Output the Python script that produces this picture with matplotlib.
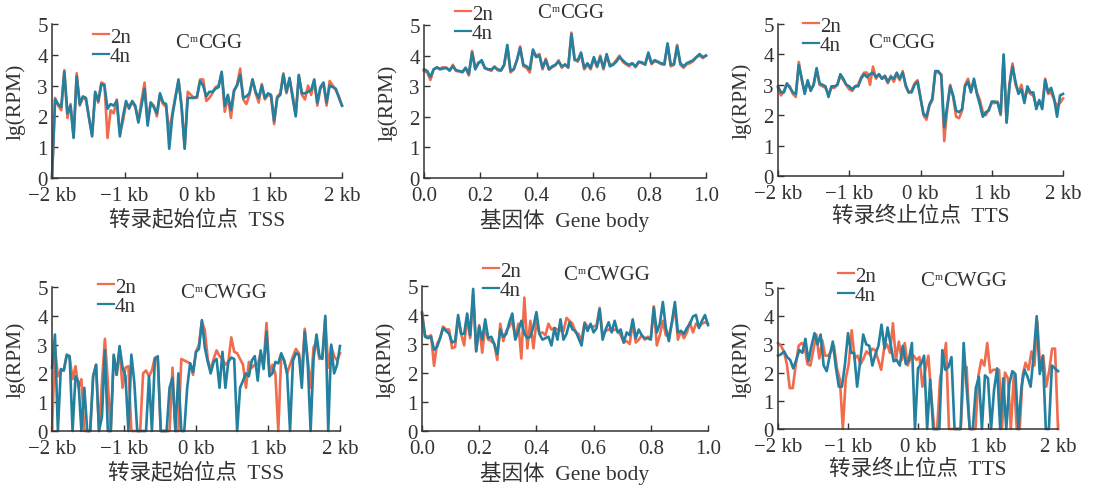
import numpy as np
import matplotlib
matplotlib.use("Agg")
import matplotlib.pyplot as plt

plt.rcParams["font.family"] = ["Liberation Serif", "Noto Sans CJK SC"]
plt.rcParams["axes.unicode_minus"] = True

W, H = 1094, 489

C_2N = "#F06C4C"
C_4N = "#23809F"
INK = "#333333"

# ---- lg(RPM) profiles ----
# CmCGG, around TSS (-2 kb .. 2 kb)
tss_cgg_4n = [0, 2.55, 2.4, 2.3, 3.45, 2.1, 2.35, 1.3, 3.3, 2.4, 2.65, 2.6, 1.95, 1.35, 2.8, 2.5,
              3.05, 3.0, 2.25, 2.4, 2.35, 2.5, 1.35, 2.0, 2.5, 2.25, 2.5, 2.35, 1.8, 2.35, 2.9, 1.7,
              2.45, 2.3, 2.1, 2.75, 2.45, 2.4, 0.95, 2.0, 2.6, 3.2, 2.3, 0.95, 2.6, 2.6, 2.6, 2.65,
              3.15, 3.0, 2.65, 2.8, 2.8, 2.9, 2.95, 3.45, 2.35, 2.7, 2.2, 2.85, 3.0, 3.35, 2.6, 2.65,
              2.75, 3.2, 2.8, 2.6, 3.0, 2.6, 2.75, 2.7, 1.85, 2.6, 2.7, 3.35, 2.8, 3.25, 2.6, 2.0,
              3.35, 2.75, 2.75, 2.8, 2.85, 3.2, 2.45, 2.95, 3.1, 2.45, 3.0, 2.95, 2.9, 2.6, 2.35]
tss_cgg_2n = [0, 2.6, 2.35, 2.2, 3.5, 1.95, 2.4, 1.35, 3.4, 2.35, 2.6, 2.55, 1.95, 1.4, 2.75, 2.45,
              3.1, 3.05, 1.3, 2.2, 2.1, 2.55, 1.45, 1.85, 2.4, 2.35, 2.45, 2.3, 1.85, 2.5, 3.1, 1.8,
              2.45, 2.35, 2.0, 2.7, 2.4, 2.3, 1.5, 2.1, 2.65, 3.15, 2.35, 1.0, 2.8, 2.7, 2.6, 2.6,
              3.2, 3.2, 2.5, 2.6, 2.75, 2.95, 3.0, 3.4, 2.15, 2.65, 1.95, 2.8, 3.05, 3.55, 2.55, 2.4,
              2.7, 3.2, 2.75, 2.45, 3.05, 2.55, 2.7, 2.65, 1.75, 2.65, 2.75, 3.4, 2.75, 3.2, 2.7, 2.05,
              3.3, 2.7, 2.55, 3.0, 2.7, 3.15, 2.35, 2.9, 3.05, 2.35, 3.15, 3.0, 2.85, 2.65, 2.35]

# CmCGG, gene body (0 .. 1)
body_cgg_4n = [3.55, 3.5, 3.3, 3.55, 3.62, 3.55, 3.58, 3.6, 3.52, 3.65, 3.52, 3.5, 3.47, 3.6, 3.4,
               4.1, 3.55, 3.75, 3.85, 3.6, 3.55, 3.55, 3.62, 3.55, 3.52, 3.7, 4.35, 3.5, 3.55, 3.85,
               4.25, 3.7, 3.65, 3.55, 4.2, 3.95, 4.0, 3.6, 3.85, 3.55, 3.65, 3.7, 3.8, 3.65, 3.7,
               3.62, 4.7, 3.85, 3.85, 4.1, 3.6, 3.75, 3.6, 3.95, 3.65, 3.95, 3.6, 4.05, 3.65, 3.7,
               3.8, 3.95, 3.85, 3.75, 3.7, 3.75, 3.65, 3.8, 3.78, 3.7, 4.1, 3.75, 3.85, 3.8, 3.75,
               3.72, 4.4, 3.7, 3.72, 4.3, 3.75, 3.65, 3.75, 3.8, 3.85, 3.95, 4.05, 3.95, 4.0]
body_cgg_2n = [3.5, 3.45, 3.2, 3.55, 3.6, 3.58, 3.62, 3.6, 3.5, 3.7, 3.5, 3.48, 3.45, 3.6, 3.35,
               4.15, 3.6, 3.78, 3.8, 3.58, 3.55, 3.5, 3.65, 3.52, 3.5, 3.68, 4.3, 3.45, 3.55, 3.85,
               4.3, 3.65, 3.6, 3.45, 4.15, 4.0, 4.05, 3.55, 3.9, 3.55, 3.62, 3.68, 3.85, 3.6, 3.72,
               3.6, 4.75, 3.9, 3.8, 4.05, 3.55, 3.7, 3.55, 3.9, 3.62, 4.0, 3.55, 4.0, 3.7, 3.72,
               3.85, 4.0, 3.8, 3.72, 3.65, 3.75, 3.62, 3.78, 3.75, 3.72, 4.05, 3.72, 3.82, 3.78, 3.72,
               3.7, 4.35, 3.65, 3.7, 4.35, 3.7, 3.6, 3.72, 3.75, 3.82, 3.95, 4.0, 3.92, 4.0]

# CmCGG, around TTS
tts_cgg_4n = [2.95, 2.75, 2.75, 3.05, 2.9, 2.75, 2.7, 3.65, 3.2, 2.7, 3.15, 2.8, 3.0, 3.55, 3.05,
              3.0, 2.95, 2.6, 2.95, 2.95, 3.0, 3.35, 3.2, 3.0, 2.95, 2.85, 2.95, 2.95, 3.2, 3.35,
              3.25, 3.35, 3.4, 3.25, 3.35, 3.2, 3.3, 3.1, 3.25, 3.2, 3.4, 3.2, 3.4, 3.0, 2.75,
              2.75, 3.0, 3.1, 2.55, 2.05, 1.95, 2.35, 2.55, 3.45, 3.45, 3.3, 1.6, 2.3, 2.95, 2.65,
              2.15, 2.1, 2.2, 2.95, 3.1, 2.75, 3.2, 2.7, 2.35, 1.95, 2.1, 2.15, 2.45, 2.45, 2.4,
              2.05, 4.0, 1.75, 3.0, 3.6, 3.1, 2.7, 2.85, 2.4, 2.95, 2.75, 2.75, 2.2, 2.5, 2.2,
              3.15, 2.75, 2.9, 2.55, 1.95, 2.65, 2.7]
tts_cgg_2n = [2.9, 2.65, 2.8, 3.0, 2.95, 2.7, 2.6, 3.75, 3.15, 2.75, 3.1, 2.85, 3.0, 3.5, 3.0,
              2.95, 2.9, 2.7, 2.9, 2.9, 3.0, 3.3, 3.15, 3.0, 2.85, 2.8, 2.95, 3.0, 3.25, 3.4,
              3.4, 3.0, 3.6, 3.2, 3.35, 3.2, 3.25, 3.05, 3.3, 3.1, 3.35, 3.15, 3.45, 2.95, 2.75,
              2.8, 3.05, 3.15, 2.6, 2.0, 1.85, 2.3, 2.5, 3.45, 3.4, 3.35, 1.15, 2.2, 3.0, 2.6,
              1.95, 1.9, 2.15, 3.0, 3.2, 2.8, 3.15, 2.75, 2.5, 2.1, 2.0, 2.2, 2.4, 2.4, 2.45,
              2.0, 3.95, 1.8, 3.05, 3.7, 3.0, 2.75, 3.0, 2.5, 2.85, 2.7, 2.65, 2.3, 2.45, 2.3,
              3.2, 2.7, 2.75, 2.5, 2.3, 2.4, 2.55]

# CmCWGG, around TSS
tss_cwgg_4n = [2.2, 3.35, 0, 2.15, 2.1, 2.65, 2.6,
               0, 1.9, 1.7, 0, 1.5, 0, 0, 1.9, 2.3, 0, 0.5, 2.8, 0, 0, 2.65, 1.95, 2.95, 2.2,
               1.9, 0, 2.65, 1.7, 0,
               0, 0, 0,
               1.9, 0, 2.5, 2.6, 0, 0, 0, 1.5, 1.85, 0, 2.0,
               0, 0, 1.5, 2.35,
               2.05, 2.75, 2.85, 3.85, 2.9, 2.4, 2.0, 2.4, 2.5, 1.5, 2.75, 1.5, 2.4, 2.55, 2.5,
               0, 1.5, 1.75, 2.0, 1.9, 2.45, 2.6, 1.75, 2.8, 2.15, 3.45, 1.9, 2.0, 2.4, 2.35,
               2.7, 2.45, 2.0, 0, 2.45, 2.7, 2.65, 1.5, 3.45, 2.4, 0, 2.5, 3.35, 2.6, 2.5, 4.0,
               0, 3.0, 2.0, 2.3, 2.95]
tss_cwgg_2n = [0, 2.9, 1.9, 2.1, 2.1, 2.6, 2.55,
               1.8, 2.25, 1.5, 1.8, 0, 0, 0, 1.9, 2.3, 0, 1.7, 3.2, 1.7, 0, 2.6, 1.95, 2.85, 1.5,
               2.2, 2.25, 0, 0, 0,
               0, 2.0, 2.1,
               1.9, 2.1, 2.55, 2.45, 0, 0, 0, 0, 2.2, 0, 0,
               2.5, 2.45, 2.4, 2.35,
               1.95, 2.75, 3.0, 3.8, 3.5, 2.5, 2.1, 2.5, 2.8, 2.6, 2.5, 2.3, 2.4, 3.25, 2.75,
               2.7, 2.5, 2.3, 1.5, 2.4, 2.2, 2.3, 2.3, 2.7, 2.35, 3.75, 2.0, 2.3, 2.0, 0,
               2.6, 2.45, 2.0, 2.3, 2.6, 2.85, 2.7, 2.0, 3.55, 2.5, 1.5, 2.9, 3.1, 2.5, 2.6, 3.9,
               2.2, 2.95, 2.6, 2.45, 2.7]

# CmCWGG, gene body
body_cwgg_4n = [4.05, 3.25, 3.2, 3.25, 2.8, 2.9, 3.2, 3.55, 3.45, 3.35, 3.05, 3.1, 4.0, 3.35, 3.35,
                4.05, 3.3, 4.9, 2.75, 3.6, 3.15, 3.85, 3.2, 3.25, 3.0, 2.65, 3.5, 3.25, 3.35, 3.75,
                4.05, 3.15, 3.45,
                3.8, 3.35, 3.2, 3.25, 3.6,
                4.1, 3.35, 3.15, 3.2, 3.25, 2.95, 3.55, 3.15, 3.85, 3.15, 3.35, 3.75, 3.5, 3.45,
                3.2, 2.95, 3.7, 3.45, 3.7, 3.4, 3.55, 4.2, 3.15, 3.5, 3.75, 3.4, 3.8, 3.4, 3.5,
                3.05, 3.4, 3.3, 3.85, 3.2, 3.5, 3.3, 3.2, 3.2, 3.15, 4.25, 3.4, 3.7, 4.45, 3.55,
                3.1, 3.75, 4.45, 3.4, 3.45, 3.35, 3.55, 3.7, 3.95, 4.0, 3.55, 3.8, 4.0, 3.65]
body_cwgg_2n = [4.1, 3.3, 3.25, 3.3, 2.25, 3.0, 3.2, 3.6, 3.5, 3.5, 2.85, 2.9, 3.9, 3.35, 2.95,
                3.9, 3.2, 4.7, 2.75, 3.65, 2.7, 3.6, 3.15, 3.1, 3.0, 2.45, 3.7, 3.1, 3.45, 3.6,
                3.8, 3.2, 3.7,
                2.5, 4.6, 2.85, 3.8, 2.85,
                3.75, 3.35, 3.4, 3.3, 3.7, 3.5, 3.55, 3.5, 3.45, 3.45, 3.9, 3.8, 3.7, 3.4,
                3.35, 3.1, 3.75, 3.6, 3.6, 3.6, 3.65, 4.25, 3.3, 3.45, 3.5, 3.45, 3.5, 3.45, 3.3,
                3.05, 3.1, 3.0, 3.75, 3.05, 3.15, 3.3, 3.15, 3.25, 3.2, 4.3, 2.95, 3.3, 3.8, 3.3,
                3.3, 3.7, 4.3, 3.15, 3.45, 3.2, 3.4, 3.75, 3.4, 3.7, 3.6, 3.7, 3.75, 3.7]

# CmCWGG, around TTS
tts_cwgg_4n = [2.6, 2.65, 2.75, 2.55, 2.45, 2.15, 2.45, 2.8, 2.7, 3.2, 2.4, 2.95, 3.4, 3.0, 3.35,
               2.25, 2.05, 2.6, 3.1, 2.2, 1.5, 1.5, 2.3, 3.4, 2.7, 2.7, 1.5, 2.4, 3.35, 3.0,
               2.95, 2.25, 2.65, 2.95, 3.7, 2.85, 3.6, 3.0, 2.4, 2.45, 2.25, 2.95, 2.3, 2.45, 3.05,
               0, 2.15, 2.3, 2.6, 0, 1.75, 0, 0, 0, 2.8, 2.1, 2.2, 2.55, 0, 0,
               0, 3.05, 1.45, 0, 0, 1.45, 1.85, 0, 1.9, 1.8, 0, 1.4, 2.15, 0, 1.8,
               0, 1.6, 2.05, 1.95, 0, 1.5, 2.1, 1.85, 1.5, 2.6, 4.0, 1.95, 2.6, 0, 0,
               2.25, 2.15, 2.05]
tts_cwgg_2n = [3.05, 2.95, 2.75, 2.3, 1.45, 1.45, 2.25, 2.95, 3.05, 2.95, 2.3, 2.25, 2.8, 3.35, 2.5,
               3.15, 2.6, 2.6, 2.75, 2.95, 2.15, 1.75, 0, 1.8, 2.3, 3.5, 2.5, 2.6, 2.3, 2.5,
               2.75, 2.65, 2.85, 2.8, 2.45, 2.1, 2.85, 3.0, 2.7, 3.75, 2.45, 3.1, 2.45, 3.05, 2.25,
               2.5, 2.6, 2.45, 2.55, 1.5, 2.1, 2.6, 1.2, 0, 0, 1.8, 2.3, 3.05, 0, 0,
               0, 0, 0, 2.1, 2.2, 0, 0, 0, 1.9, 2.45, 2.25, 3.05, 2.0, 2.1, 2.1,
               2.1, 0, 2.0, 1.8, 0, 1.9, 0, 0, 1.9, 2.35, 2.1, 2.75, 2.25, 3.8, 2.05,
               2.6, 1.5, 2.05, 2.85, 2.85, 0]

kb_ticks = [-2, -1, 0, 1, 2]
kb_labels = ["\u22122 kb", "\u22121 kb", "0 kb", "1 kb", "2 kb"]
body_ticks = [0.0, 0.2, 0.4, 0.6, 0.8, 1.0]
body_labels = ["0.0", "0.2", "0.4", "0.6", "0.8", "1.0"]
y_ticks = [0, 1, 2, 3, 4, 5]

xlab_tss = "转录起始位点  TSS"
xlab_body = "基因体  Gene body"
xlab_tts = "转录终止位点  TTS"
# motif name pieces: base, superscript, rest
motif_cgg = ("C", "m", "CGG")
motif_cwgg = ("C", "m", "CWGG")

fig = plt.figure(figsize=(W / 100, H / 100), dpi=100)
renderer = fig.canvas.get_renderer()


def px_axes(left, top, right, bottom):
    return fig.add_axes([left / W, 1 - bottom / H, (right - left) / W, (bottom - top) / H])


def motif_label(x, y, parts):
    # "C" + small raised "m" + rest of the site name
    t1 = fig.text(x / W, 1 - y / H, parts[0], fontsize=15, color=INK, ha="left", va="center")
    x1 = t1.get_window_extent(renderer).x1
    t2 = fig.text((x1 + 0.5) / W, 1 - (y - 8.5) / H, parts[1], fontsize=7.5, color=INK,
                  ha="left", va="top")
    x2 = t2.get_window_extent(renderer).x1
    fig.text((x2 + 0.5) / W, 1 - y / H, parts[2], fontsize=15, color=INK, ha="left", va="center")


def panel(box, span, ticks, labels, v2n, v4n, xlabel, motif, leg_xy, motif_xy):
    ax = px_axes(*box)
    x2 = np.linspace(span[0], span[1], len(v2n))
    x4 = np.linspace(span[0], span[1], len(v4n))
    l2, = ax.plot(x2, v2n, color=C_2N, lw=1.9, clip_on=False)
    l4, = ax.plot(x4, v4n, color=C_4N, lw=1.9, clip_on=False)
    ax.set_xlim(*span)
    ax.set_ylim(0, 5)
    ax.set_xticks(ticks)
    ax.set_xticklabels(labels)
    ax.set_yticks(y_ticks)
    for s in ("top", "right"):
        ax.spines[s].set_visible(False)
    for s in ("left", "bottom"):
        ax.spines[s].set_color(INK)
        ax.spines[s].set_linewidth(1.1)
    ax.tick_params(direction="in", length=4, width=1.0, color=INK, labelcolor=INK,
                   labelsize=15, pad=3)
    ax.tick_params(axis="x", pad=6)
    ax.set_xlabel(xlabel, fontsize=15.5, color=INK)
    ax.xaxis.set_label_coords(0.5, -30 / (box[3] - box[1]))
    ax.xaxis.label.set_va("top")
    ax.set_ylabel("lg(RPM)", fontsize=15.5, color=INK)
    ax.yaxis.set_label_coords(-26 / (box[2] - box[0]), 0.5)
    leg = ax.legend([l2, l4], ["2n", "4n"], loc="upper left",
                    bbox_to_anchor=(leg_xy[0] / W, 1 - leg_xy[1] / H),
                    bbox_transform=fig.transFigure, frameon=False, fontsize=15,
                    handlelength=0.75, handletextpad=0.05, labelspacing=0.0,
                    borderpad=0, borderaxespad=0, labelcolor=INK)
    for h in leg.get_lines():
        h.set_linewidth(1.6)
    motif_label(motif_xy[0], motif_xy[1], motif)
    return ax


panel((52, 25, 342, 179), (-2, 2), kb_ticks, kb_labels, tss_cgg_2n, tss_cgg_4n,
      xlab_tss, motif_cgg, (93, 28), (175, 43))
panel((424, 26, 706, 179), (0, 1), body_ticks, body_labels, body_cgg_2n, body_cgg_4n,
      xlab_body, motif_cgg, (455, 5), (537, 14))
panel((778, 25, 1063, 177), (-2, 2), kb_ticks, kb_labels, tts_cgg_2n, tts_cgg_4n,
      xlab_tts, motif_cgg, (803, 17), (868, 44))
panel((52, 288, 340, 432), (-2, 2), kb_ticks, kb_labels, tss_cwgg_2n, tss_cwgg_4n,
      xlab_tss, motif_cwgg, (98, 278), (180, 294))
panel((422, 287, 708, 432), (0, 1), body_ticks, body_labels, body_cwgg_2n, body_cwgg_4n,
      xlab_body, motif_cwgg, (483, 262), (563, 276))
panel((778, 289, 1058, 430), (-2, 2), kb_ticks, kb_labels, tts_cwgg_2n, tts_cwgg_4n,
      xlab_tts, motif_cwgg, (838, 267), (920, 282))

fig.savefig("out.png", dpi=100)
